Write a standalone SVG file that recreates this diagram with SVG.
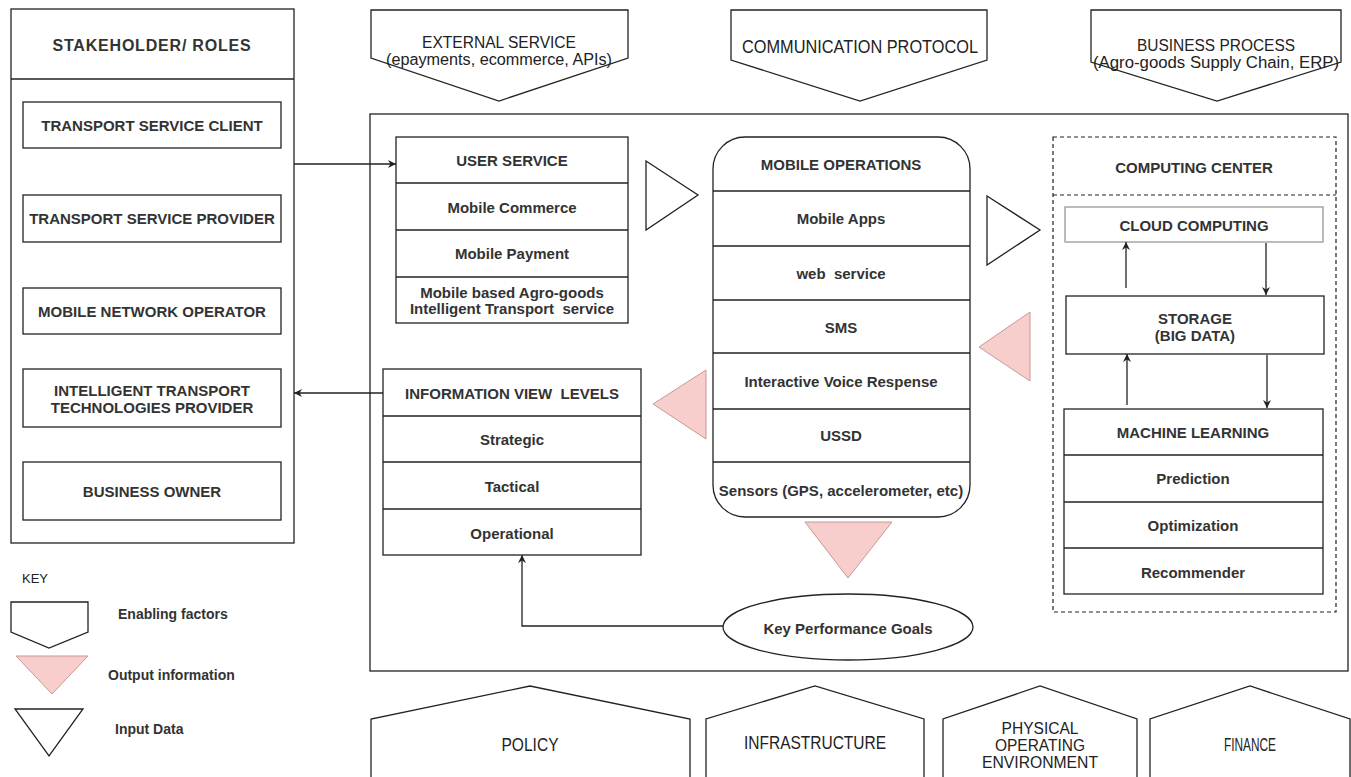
<svg xmlns="http://www.w3.org/2000/svg" width="1351" height="777" viewBox="0 0 1351 777">
<defs>
<style>
.b{fill:#fff;stroke:#222;stroke-width:1.3}
.ln{fill:none;stroke:#222;stroke-width:1.3}
.pk{fill:#f8cecc;stroke:#c99894;stroke-width:1}
.t{font-family:"Liberation Sans",Arial,sans-serif;font-size:15px;font-weight:bold;fill:#333;text-anchor:middle;dominant-baseline:central}
.n{font-family:"Liberation Sans",Arial,sans-serif;font-size:16px;fill:#222;text-anchor:middle;dominant-baseline:central}
.n18{font-size:18px}
.k{font-family:"Liberation Sans",Arial,sans-serif;font-size:14px;font-weight:bold;fill:#333;dominant-baseline:central}
.d{fill:none;stroke:#222;stroke-width:1.2;stroke-dasharray:4 3}
</style>
<marker id="ah" viewBox="0 0 10 10" refX="10" refY="5" markerWidth="8" markerHeight="8" orient="auto" markerUnits="userSpaceOnUse"><path d="M0,0 L10,5 L0,10 L3,5 Z" fill="#222"/></marker>
</defs>
<rect width="1351" height="777" fill="#fff"/>

<!-- main frame -->
<rect id="main-frame" class="b" x="370" y="114" width="978" height="557"/>

<!-- stakeholder -->
<g id="stakeholders">
<rect class="b" x="11" y="9" width="283" height="534"/>
<line class="ln" x1="11" y1="79" x2="294" y2="79"/>
<text class="t" x="152" y="45" style="font-size:16px;letter-spacing:0.8px">STAKEHOLDER/ ROLES</text>
</g>
<g id="tsc"><rect class="b" x="23" y="102" width="258" height="46"/><text class="t" x="152" y="125">TRANSPORT SERVICE CLIENT</text></g>
<g id="tsp"><rect class="b" x="23" y="195" width="258" height="47"/><text class="t" x="152" y="218">TRANSPORT SERVICE PROVIDER</text></g>
<g id="mno"><rect class="b" x="23" y="288" width="258" height="46"/><text class="t" x="152" y="311">MOBILE NETWORK OPERATOR</text></g>
<g id="ittp"><rect class="b" x="23" y="369" width="258" height="58"/><text class="t" x="152" y="390">INTELLIGENT TRANSPORT</text><text class="t" x="152" y="407">TECHNOLOGIES PROVIDER</text></g>
<g id="bo"><rect class="b" x="23" y="462" width="258" height="58"/><text class="t" x="152" y="491">BUSINESS OWNER</text></g>

<!-- top enabling factors -->
<g id="external-service"><path class="b" d="M371,10 H628 V58 L499,101 L371,58 Z"/><text class="n" x="499" y="42" textLength="154" lengthAdjust="spacingAndGlyphs">EXTERNAL SERVICE</text><text class="n" x="499" y="59" textLength="226" lengthAdjust="spacingAndGlyphs">(epayments, ecommerce, APIs)</text></g>
<g id="communication-protocol"><path class="b" d="M731,10 H987 V60 L860,101 L731,60 Z"/><text class="n n18" x="860" y="47" textLength="236" lengthAdjust="spacingAndGlyphs">COMMUNICATION PROTOCOL</text></g>
<g id="business-process"><path class="b" d="M1091,10 H1341 V62 L1217,101 L1091,62 Z"/><text class="n" x="1216" y="45" textLength="158" lengthAdjust="spacingAndGlyphs">BUSINESS PROCESS</text><text class="n" x="1216" y="62" textLength="246" lengthAdjust="spacingAndGlyphs">(Agro-goods Supply Chain, ERP)</text></g>

<!-- user service -->
<g id="user-service">
<rect class="b" x="396" y="137" width="232" height="186"/>
<line class="ln" x1="396" y1="183" x2="628" y2="183"/>
<line class="ln" x1="396" y1="230" x2="628" y2="230"/>
<line class="ln" x1="396" y1="277" x2="628" y2="277"/>
<text class="t" x="512" y="160">USER SERVICE</text>
<text class="t" x="512" y="207">Mobile Commerce</text>
<text class="t" x="512" y="253">Mobile Payment</text>
<text class="t" x="512" y="292">Mobile based Agro-goods</text>
<text class="t" x="512" y="308" xml:space="preserve">Intelligent Transport  service</text>
</g>

<!-- mobile operations -->
<g id="mobile-operations">
<rect class="b" x="713" y="137" width="257" height="380" rx="32" ry="32"/>
<line class="ln" x1="713" y1="191" x2="970" y2="191"/>
<line class="ln" x1="713" y1="246" x2="970" y2="246"/>
<line class="ln" x1="713" y1="300" x2="970" y2="300"/>
<line class="ln" x1="713" y1="353" x2="970" y2="353"/>
<line class="ln" x1="713" y1="409" x2="970" y2="409"/>
<line class="ln" x1="713" y1="462" x2="970" y2="462"/>
<text class="t" x="841" y="164">MOBILE OPERATIONS</text>
<text class="t" x="841" y="218">Mobile Apps</text>
<text class="t" x="841" y="273" xml:space="preserve">web  service</text>
<text class="t" x="841" y="327">SMS</text>
<text class="t" x="841" y="381">Interactive Voice Respense</text>
<text class="t" x="841" y="435">USSD</text>
<text class="t" x="841" y="490">Sensors (GPS, accelerometer, etc)</text>
</g>

<!-- computing center -->
<g id="computing-center">
<rect class="d" x="1053" y="137" width="283" height="475"/>
<line class="d" x1="1053" y1="195" x2="1336" y2="195"/>
<text class="t" x="1194" y="167">COMPUTING CENTER</text>
</g>
<g id="cloud-computing"><rect x="1065" y="207" width="258" height="35" fill="#fff" stroke="#999" stroke-width="1.3"/><text class="t" x="1194" y="225">CLOUD COMPUTING</text></g>
<g id="storage"><rect class="b" x="1066" y="296" width="258" height="58"/><text class="t" x="1195" y="318">STORAGE</text><text class="t" x="1195" y="335">(BIG DATA)</text></g>
<g id="machine-learning">
<rect class="b" x="1064" y="409" width="259" height="185"/>
<line class="ln" x1="1064" y1="455" x2="1323" y2="455"/>
<line class="ln" x1="1064" y1="502" x2="1323" y2="502"/>
<line class="ln" x1="1064" y1="548" x2="1323" y2="548"/>
<text class="t" x="1193" y="432">MACHINE LEARNING</text>
<text class="t" x="1193" y="478">Prediction</text>
<text class="t" x="1193" y="525">Optimization</text>
<text class="t" x="1193" y="572">Recommender</text>
</g>

<!-- information view levels -->
<g id="information-view-levels">
<rect class="b" x="383" y="369" width="258" height="186"/>
<line class="ln" x1="383" y1="416" x2="641" y2="416"/>
<line class="ln" x1="383" y1="462" x2="641" y2="462"/>
<line class="ln" x1="383" y1="509" x2="641" y2="509"/>
<text class="t" x="512" y="393" xml:space="preserve">INFORMATION VIEW  LEVELS</text>
<text class="t" x="512" y="439">Strategic</text>
<text class="t" x="512" y="486">Tactical</text>
<text class="t" x="512" y="533">Operational</text>
</g>

<!-- key performance goals -->
<g id="key-performance-goals"><ellipse class="b" cx="848" cy="627" rx="125" ry="33"/><text class="t" x="848" y="628">Key Performance Goals</text></g>

<!-- flow triangles -->
<g id="input-1"><path class="b" d="M646,161 L698,195 L646,230 Z"/></g>
<g id="input-2"><path class="b" d="M987,196 L1040,230 L987,265 Z"/></g>
<g id="output-1"><path class="pk" d="M1030,312 L979,347 L1030,381 Z"/></g>
<g id="output-2"><path class="pk" d="M706,370 L653,404 L706,439 Z"/></g>
<g id="output-3"><path class="pk" d="M805,522 L892,522 L848,578 Z"/></g>

<!-- bottom enabling factors -->
<g id="policy"><path class="b" d="M371,777 V719 L530,686 L690,719 V777"/><text class="n n18" x="530" y="745" textLength="57" lengthAdjust="spacingAndGlyphs">POLICY</text></g>
<g id="infrastructure"><path class="b" d="M706,777 V719 L815,686 L924,719 V777"/><text class="n n18" x="815" y="743" textLength="142" lengthAdjust="spacingAndGlyphs">INFRASTRUCTURE</text></g>
<g id="physical-operating-environment"><path class="b" d="M943,777 V719 L1040,686 L1137,719 V777"/><text class="n" x="1040" y="728" textLength="77" lengthAdjust="spacingAndGlyphs">PHYSICAL</text><text class="n" x="1040" y="745" textLength="90" lengthAdjust="spacingAndGlyphs">OPERATING</text><text class="n" x="1040" y="762" textLength="116" lengthAdjust="spacingAndGlyphs">ENVIRONMENT</text></g>
<g id="finance"><path class="b" d="M1150,777 V719 L1250,686 L1350,719 V777"/><text class="n n18" x="1250" y="745" textLength="52" lengthAdjust="spacingAndGlyphs">FINANCE</text></g>

<!-- key legend -->
<g id="legend">
<text x="22" y="578" style="font-family:'Liberation Sans',Arial,sans-serif;font-size:13px;fill:#222" dominant-baseline="central">KEY</text>
<path class="b" d="M11,602 H88 V632 L49,648 L11,632 Z"/>
<text class="k" x="118" y="614">Enabling factors</text>
<path class="pk" d="M16,656 L88,656 L52,694 Z"/>
<text class="k" x="108" y="675">Output information</text>
<path class="b" d="M15,709 L83,709 L49,756 Z"/>
<text class="k" x="115" y="729">Input Data</text>
</g>

<!-- connectors -->
<g id="connectors">
<path class="ln" d="M294,164 H396" marker-end="url(#ah)"/>
<path class="ln" d="M383,393 H294" marker-end="url(#ah)"/>
<path class="ln" d="M723,626 H522 V555" marker-end="url(#ah)"/>
<path class="ln" d="M1126,288 V242" marker-end="url(#ah)"/>
<path class="ln" d="M1266,243 V295" marker-end="url(#ah)"/>
<path class="ln" d="M1127,405 V354" marker-end="url(#ah)"/>
<path class="ln" d="M1267,355 V408" marker-end="url(#ah)"/>
</g>
</svg>
